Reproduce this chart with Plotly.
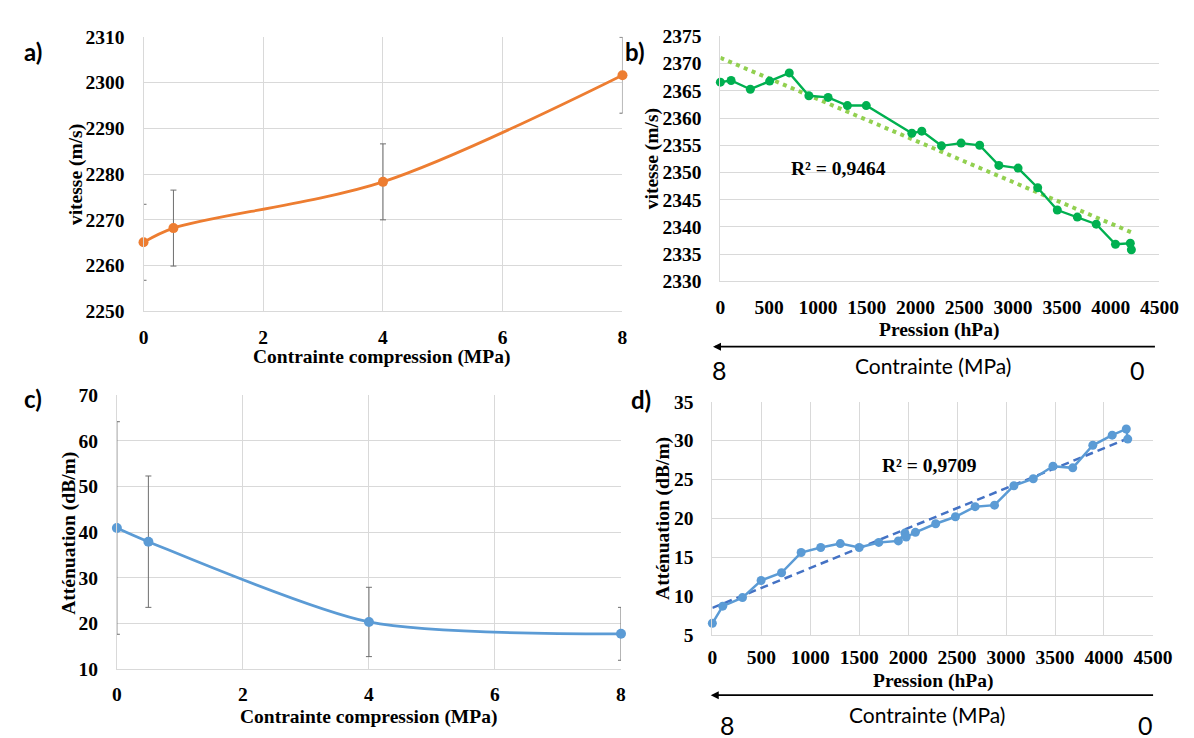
import numpy as np
import plotly.graph_objects as go

# ---------------- data ----------------
# panel a) vitesse vs contrainte
a_stress = [0, 0.5, 4, 8]
a_speed = [2265.1, 2268.2, 2278.3, 2301.6]
a_err = [8.3, 8.3, 8.3, 8.3]

# panel c) attenuation vs contrainte
c_stress = [0, 0.5, 4, 8]
c_att = [40.9, 37.9, 20.3, 17.7]
c_err = [23.3, 14.4, 7.6, 5.8]

# panel b) vitesse vs pression
b_press = [0, 110, 307, 505, 706, 907, 1104, 1302, 1495, 1962, 2064, 2266,
           2467, 2657, 2854, 3051, 3252, 3453, 3658, 3852, 4049, 4201, 4212]
b_speed = [2366.6, 2366.9, 2365.3, 2366.8, 2368.3, 2364.1, 2363.8, 2362.3,
           2362.3, 2357.2, 2357.6, 2354.9, 2355.4, 2355.0, 2351.3, 2350.8,
           2347.2, 2343.1, 2341.8, 2340.5, 2336.8, 2337.0, 2335.8]
b_r2 = "R² = 0,9464"

# panel d) attenuation vs pression
d_press = [0, 106, 308, 498, 707, 907, 1107, 1307, 1500, 1700, 1900, 1967,
           1980, 2074, 2281, 2483, 2684, 2882, 3080, 3278, 3479, 3681, 3886,
           4084, 4228, 4243]
d_att = [6.5, 8.7, 9.8, 12.0, 13.0, 15.6, 16.25, 16.75, 16.25, 16.9, 17.1,
         18.1, 17.6, 18.2, 19.3, 20.2, 21.5, 21.7, 24.2, 25.1, 26.7, 26.5,
         29.4, 30.7, 31.5, 30.2]
d_r2 = "R² = 0,9709"

stress_ticks = [0, 2, 4, 6, 8]
press_ticks = list(range(0, 4501, 500))

# ---------------- styling ----------------
W, H = 1194, 738
SERIF = "Liberation Serif"
SANS = "Lato"
GRID = "#d9d9d9"
ORANGE = "#ED7D31"
BLUE = "#5B9BD5"
GREEN = "#00B050"
LGREEN = "#92D050"
DBLUE = "#4472C4"
ERRC = "#6f6f6f"


def px(x):
    return x / W


def py(y):
    return 1 - y / H


fig = go.Figure()

# a)
fig.add_trace(go.Scatter(
    x=a_stress, y=a_speed, mode="lines+markers", xaxis="x", yaxis="y",
    line=dict(color=ORANGE, width=2.75, shape="spline", smoothing=0.9),
    marker=dict(color=ORANGE, size=10),
    error_y=dict(type="data", array=a_err, color=ERRC, thickness=1, width=3),
    cliponaxis=False, showlegend=False))

# b)
coef_b = np.polyfit(b_press, b_speed, 1)
bx = [min(b_press), max(b_press)]
fig.add_trace(go.Scatter(
    x=bx, y=np.polyval(coef_b, bx), mode="lines", xaxis="x2", yaxis="y2",
    line=dict(color=LGREEN, width=4, dash="4px,4.5px"), showlegend=False))
fig.add_trace(go.Scatter(
    x=b_press, y=b_speed, mode="lines+markers", xaxis="x2", yaxis="y2",
    line=dict(color=GREEN, width=2.4),
    marker=dict(color=GREEN, size=9),
    cliponaxis=False, showlegend=False))

# c)
fig.add_trace(go.Scatter(
    x=c_stress, y=c_att, mode="lines+markers", xaxis="x3", yaxis="y3",
    line=dict(color=BLUE, width=2.75, shape="spline", smoothing=0.75),
    marker=dict(color=BLUE, size=10),
    error_y=dict(type="data", array=c_err, color=ERRC, thickness=1, width=3),
    cliponaxis=False, showlegend=False))

# d)
coef_d = np.polyfit(d_press, d_att, 1)
dx = [min(d_press), max(d_press)]
fig.add_trace(go.Scatter(
    x=dx, y=np.polyval(coef_d, dx), mode="lines", xaxis="x4", yaxis="y4",
    line=dict(color=DBLUE, width=2.5, dash="8px,5px"), showlegend=False))
fig.add_trace(go.Scatter(
    x=d_press, y=d_att, mode="lines+markers", xaxis="x4", yaxis="y4",
    line=dict(color=BLUE, width=2.5),
    marker=dict(color=BLUE, size=9),
    cliponaxis=False, showlegend=False))

tickfont = dict(family=SERIF, size=19.5, color="black", weight="bold")


def xax(domain, anchor, rng, ticks, grid=True, ticklen=8):
    return dict(domain=domain, anchor=anchor, range=rng, tickvals=ticks,
                showgrid=grid, gridcolor=GRID, gridwidth=1, zeroline=False,
                showline=True, linecolor=GRID, linewidth=1, mirror=False,
                ticks="outside", ticklen=ticklen, tickcolor="rgba(0,0,0,0)",
                tickfont=tickfont, fixedrange=True)


def yax(domain, anchor, rng, dtick):
    return dict(domain=domain, anchor=anchor, range=rng, dtick=dtick,
                showgrid=True, gridcolor=GRID, gridwidth=1, zeroline=False,
                showline=True, linecolor=GRID, linewidth=1,
                ticks="outside", ticklen=14, tickcolor="rgba(0,0,0,0)",
                tickfont=tickfont, fixedrange=True)


fig.update_layout(
    width=W, height=H, margin=dict(l=0, r=0, t=0, b=0),
    paper_bgcolor="white", plot_bgcolor="white", showlegend=False,
    xaxis=xax([px(133.3), px(622.5)], "y", [0, 8], stress_ticks),
    yaxis=yax([py(302), py(19.3)], "x", [2250, 2310], 10),
    xaxis2=xax([px(722.5), px(1171)], "y2", [0, 4500], press_ticks, grid=False),
    yaxis2=yax([py(271), py(19)], "x2", [2330, 2375], 5),
    xaxis3=xax([px(106.1), px(621)], "y3", [0, 8], stress_ticks),
    yaxis3=yax([py(670), py(388.3)], "x3", [10, 70], 10),
    xaxis4=xax([px(714.3), px(1164.3)], "y4", [0, 4500], press_ticks, ticklen=5),
    yaxis4=yax([py(635), py(395)], "x4", [5, 35], 5),
)

ann = []


def text(x, y, t, font, angle=0):
    ann.append(dict(x=px(x), y=py(y), xref="paper", yref="paper", text=t,
                    showarrow=False, font=font, textangle=angle,
                    xanchor="center", yanchor="middle", borderpad=0))


titlefont = dict(family=SERIF, size=19.5, color="black", weight="bold")
labfont = dict(family=SANS, size=24, color="black", weight="bold")
sansfont = dict(family=SANS, size=21, color="black")
bigfont = dict(family=SANS, size=25, color="black")

# panel letters
text(20, 34, "a)", labfont)
text(635, 34, "b)", labfont)
text(20, 392, "c)", labfont)
text(641.5, 392.5, "d)", labfont)

# axis titles
text(65, 161, "vitesse (m/s)", titlefont, -90)
text(376.5, 348.5, "Contrainte compression (MPa)", titlefont)
text(653, 145, "vitesse (m/s)", titlefont, -90)
text(946, 321, "Pression (hPa)", titlefont)
text(57, 530, "Atténuation (dB/m)", titlefont, -90)
text(363.6, 719, "Contrainte compression (MPa)", titlefont)
text(664.5, 515, "Atténuation (dB/m)", titlefont, -90)
text(939.5, 682, "Pression (hPa)", titlefont)

# R² labels
text(843.6, 155, b_r2, titlefont)
text(936.6, 461, d_r2, titlefont)

# stress arrows (b and d)
for (x0, x1, yy, tx, ty, e8x, e0x, ey) in [
        (715, 1158.4, 338.3, 939.5, 358, 722, 1149, 362),
        (712.7, 1156.5, 697, 933.8, 717, 729.7, 1156.5, 728)]:
    ann.append(dict(x=px(x0), y=py(yy), xref="paper", yref="paper", text="",
                    showarrow=True, ax=x1 - x0, ay=0, axref="pixel", ayref="pixel",
                    arrowhead=2, arrowsize=1, arrowwidth=1.6, arrowcolor="black",
                    standoff=0, startstandoff=0))
    text(tx, ty, "Contrainte (MPa)", sansfont)
    text(e8x, ey, "8", bigfont)
    text(e0x, ey, "0", bigfont)

fig.update_layout(annotations=ann)
fig.write_html("out.html")
